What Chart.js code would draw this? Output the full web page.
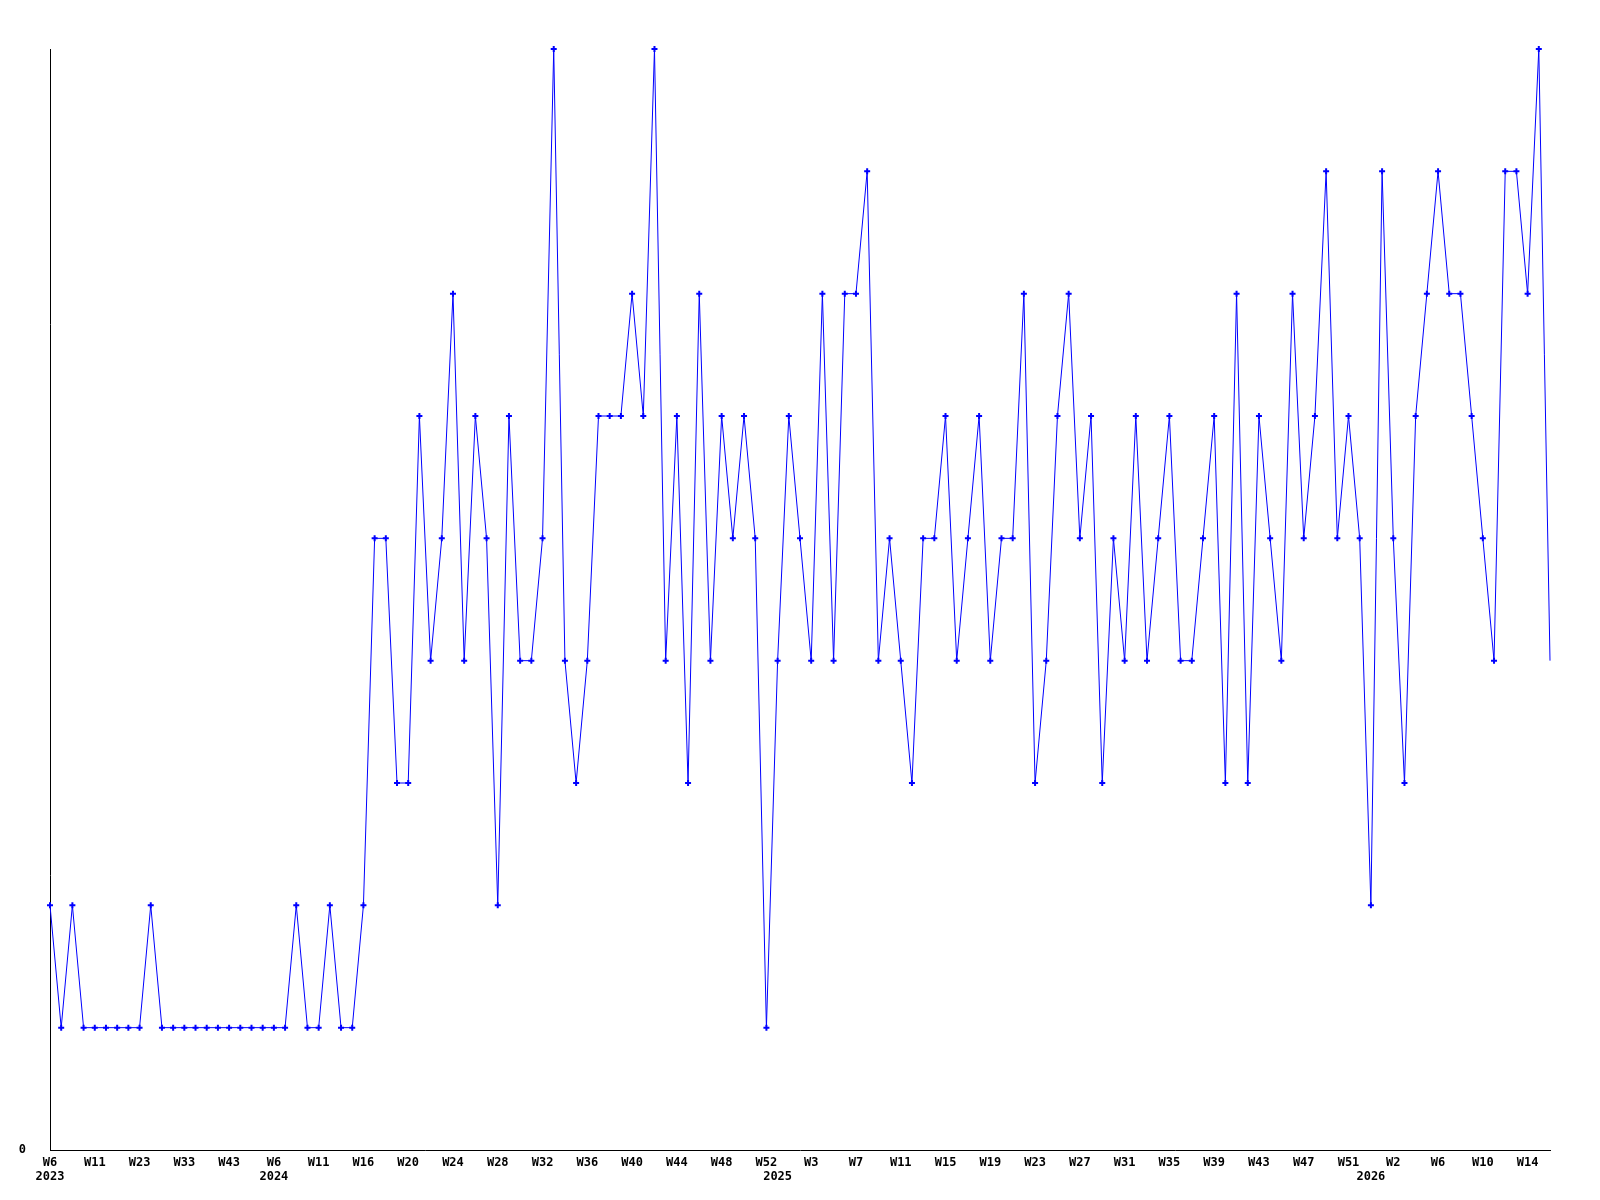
<!DOCTYPE html>
<html>
<head>
<meta charset="utf-8">
<script src="https://cdn.jsdelivr.net/npm/chart.js@4/dist/chart.umd.min.js"></script>
<style>
  html, body { margin: 0; padding: 0; background: #ffffff; }
  #wrap { width: 1600px; height: 1200px; }
</style>
</head>
<body>
<div id="wrap"><canvas id="c" width="1600" height="1200"></canvas></div>
<script>
// Week categories (year-week)
const categories = [
  '2023-W6','2023-W7','2023-W8','2023-W10','2023-W11','2023-W14','2023-W17','2023-W20','2023-W23','2023-W25',
  '2023-W28','2023-W30','2023-W33','2023-W36','2023-W38','2023-W40','2023-W43','2023-W46','2023-W49','2023-W52',
  '2024-W6','2024-W7','2024-W8','2024-W10','2024-W11','2024-W12','2024-W13','2024-W15','2024-W16','2024-W17',
  '2024-W18','2024-W19','2024-W20','2024-W21','2024-W22','2024-W23','2024-W24','2024-W25','2024-W26','2024-W27',
  '2024-W28','2024-W29','2024-W30','2024-W31','2024-W32','2024-W33','2024-W34','2024-W35','2024-W36','2024-W37',
  '2024-W38','2024-W39','2024-W40','2024-W41','2024-W42','2024-W43','2024-W44','2024-W45','2024-W46','2024-W47',
  '2024-W48','2024-W49','2024-W50','2024-W51','2024-W52',
  '2025-W0','2025-W1','2025-W2','2025-W3','2025-W4','2025-W5','2025-W6','2025-W7','2025-W8','2025-W9',
  '2025-W10','2025-W11','2025-W12','2025-W13','2025-W14','2025-W15','2025-W16','2025-W17','2025-W18','2025-W19',
  '2025-W20','2025-W21','2025-W22','2025-W23','2025-W24','2025-W25','2025-W26','2025-W27','2025-W28','2025-W29',
  '2025-W30','2025-W31','2025-W32','2025-W33','2025-W34','2025-W35','2025-W36','2025-W37','2025-W38','2025-W39',
  '2025-W40','2025-W41','2025-W42','2025-W43','2025-W44','2025-W45','2025-W46','2025-W47','2025-W48','2025-W49',
  '2025-W50','2025-W51','2025-W52',
  '2026-W0','2026-W1','2026-W2','2026-W3','2026-W4','2026-W5','2026-W6','2026-W7','2026-W8','2026-W9',
  '2026-W10','2026-W11','2026-W12','2026-W13','2026-W14','2026-W15','2026-W16'
];

// Weekly counts
const counts = [
  2,1,2,1,1,1,1,1,1,2,
  1,1,1,1,1,1,1,1,1,1,
  1,1,2,1,1,2,1,1,2,5,
  5,3,3,6,4,5,7,4,6,5,
  2,6,4,4,5,9,4,3,4,6,
  6,6,7,6,9,4,6,3,7,4,
  6,5,6,5,1,4,6,5,4,7,
  4,7,7,8,4,5,4,3,5,5,
  6,4,5,6,4,5,5,7,3,4,
  6,7,5,6,3,5,4,6,4,5,
  6,4,4,5,6,3,7,3,6,5,
  4,7,5,6,8,5,6,5,2,8,
  5,3,6,7,8,7,7,6,5,4,
  8,8,7,9,4
];

// Y axis range and the only labelled tick
const yMin = 0;
const yMax = 9;
const yTickLabels = ['0'];

const FONT = { family: "'DejaVu Sans Mono', 'Liberation Mono', monospace", size: 12, weight: 'bold', lineHeight: '14px' };
const lastIndex = counts.length - 1;

function tickLabel(index) {
  const [yr, wk] = categories[index].split('-');
  const prevYr = index > 0 ? categories[index - 1].split('-')[0] : null;
  const showWeek = index % 4 === 0;
  const showYear = yr !== prevYr;
  if (showWeek && showYear) return [wk, yr];
  if (showWeek) return wk;
  if (showYear) return ['', yr];
  return '';
}

new Chart(document.getElementById('c'), {
  type: 'line',
  data: {
    labels: categories,
    datasets: [{
      data: counts,
      borderColor: '#0000ff',
      backgroundColor: '#0000ff',
      borderWidth: 1,
      tension: 0,
      fill: false,
      clip: false,
      pointStyle: 'cross',
      pointRadius: ctx => ctx.dataIndex === lastIndex ? 0 : 3,
      pointBorderWidth: 2,
      pointBorderColor: '#0000ff',
      pointHoverRadius: 3
    }]
  },
  options: {
    responsive: false,
    animation: false,
    devicePixelRatio: 1,
    layout: { padding: { top: 49, right: 50, left: 0, bottom: 0 } },
    plugins: { legend: { display: false }, tooltip: { enabled: false } },
    events: [],
    scales: {
      x: {
        type: 'category',
        offset: false,
        grid: { display: false, drawTicks: false },
        border: { display: true, color: '#000000', width: 1 },
        ticks: {
          autoSkip: false,
          maxRotation: 0,
          minRotation: 0,
          padding: 6,
          color: '#000000',
          font: FONT,
          callback: (v, i) => tickLabel(i)
        },
        afterFit: s => { s.height = 50; }
      },
      y: {
        min: yMin,
        max: yMax,
        grid: { display: false, drawTicks: false },
        border: { display: true, color: '#000000', width: 1 },
        ticks: {
          stepSize: yMax - yMin,
          padding: 24,
          color: '#000000',
          font: FONT,
          callback: v => (yTickLabels.includes(String(v)) ? String(v) : '')
        },
        afterFit: s => { s.width = 50; }
      }
    }
  }
});
</script>
</body>
</html>
